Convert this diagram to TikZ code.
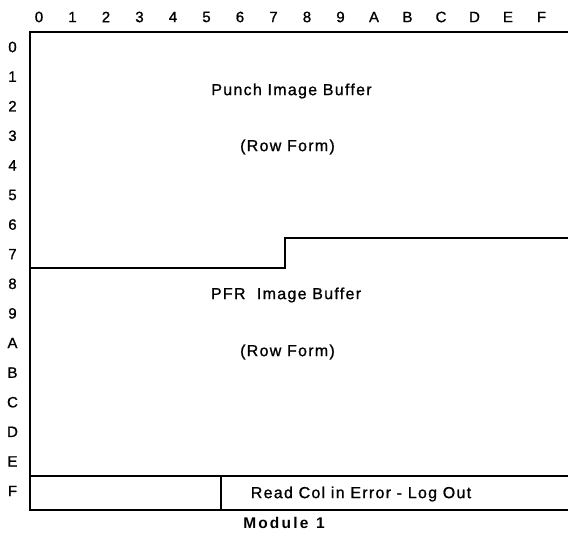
\documentclass[tikz,border=0pt]{standalone}
\usepackage{fontspec}
\setmainfont{Liberation Sans}
\newfontfamily\mapfont[LetterSpace=8,FakeBold=1]{Liberation Sans}
\newfontfamily\modfont[LetterSpace=14]{Liberation Sans}
\begin{document}
\begin{tikzpicture}[x=1pt,y=-1pt,line width=1.2pt,
  lbl/.style={font=\mapfont\fontsize{15}{17}\selectfont,inner sep=0pt},
  txt/.style={font=\mapfont\fontsize{16}{18}\selectfont,inner sep=0pt}]
\useasboundingbox (0,0) rectangle (568,535);
% hex column and row numbers
\foreach \c [count=\i from 0] in {0,1,2,3,4,5,6,7,8,9,A,B,C,D,E,F}
  \node[lbl] (col\c) at (39+33.5*\i,17) {\c};
\foreach \r [count=\i from 0] in {0,1,2,3,4,5,6,7,8,9,A,B,C,D,E,F}
  \node[lbl] (row\r) at (12.5,47+29.6*\i) {\r};
% outline of the module
\draw (568,32) -- (30,32) -- (30,510) -- (568,510);
\draw (30,268) -- (285,268) -- (285,238) -- (568,238);
\draw (30,476) -- (568,476);
\draw (221,476) -- (221,510);
% areas
\node[txt] (punch) at (291.5,91) {Punch Image Buffer};
\node[txt] (punchform) at (287.5,147) {(Row Form)};
\node[txt] (pfr) at (286,295) {PFR\ \ Image Buffer};
\node[txt] (pfrform) at (287.5,352) {(Row Form)};
\node[txt] (readcol) at (361,494) {Read Col in Error - Log Out};
\node[font=\modfont\fontsize{15.5}{17}\selectfont\bfseries,inner sep=0pt]
  (module) at (284,523) {Module\enspace 1};
\end{tikzpicture}
\end{document}
